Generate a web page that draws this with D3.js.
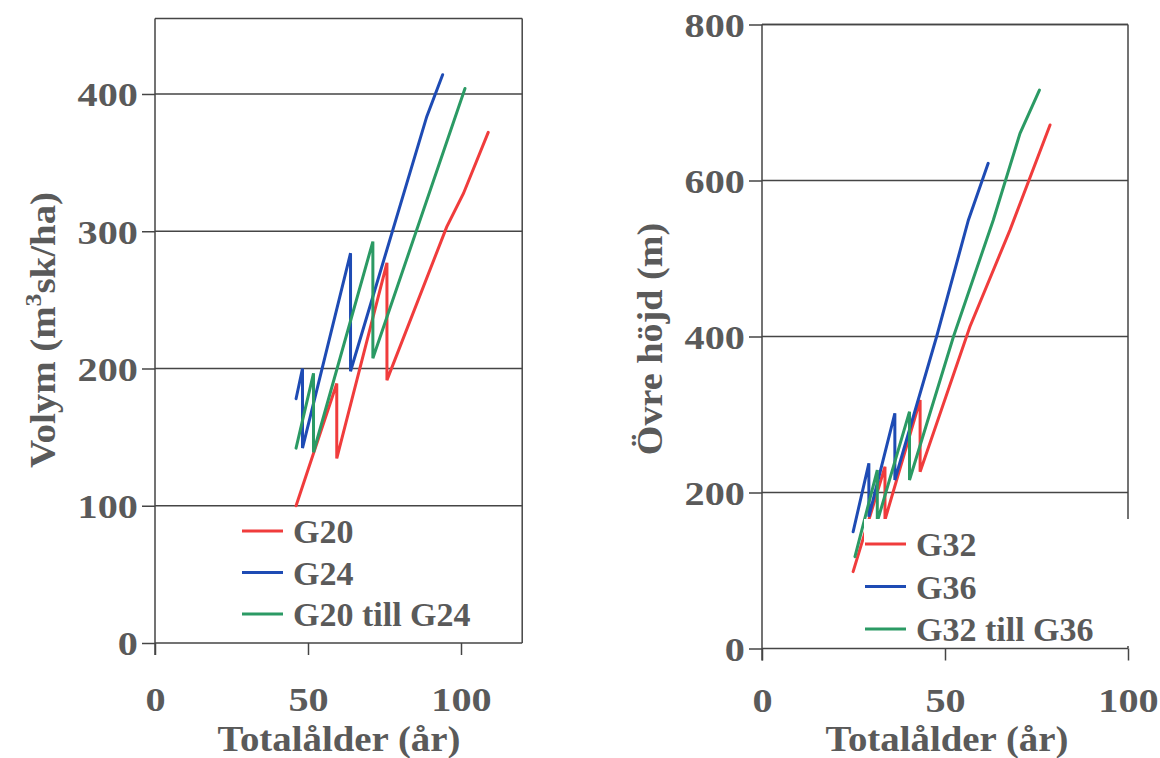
<!DOCTYPE html>
<html><head><meta charset="utf-8">
<script src="https://cdn.jsdelivr.net/npm/d3@7"></script>
<style>
html,body{margin:0;padding:0;background:#fff;}
svg text{font-family:"Liberation Serif","Times New Roman",serif;font-weight:bold;fill:#5a5a5a;}
</style></head>
<body>
<svg id="c" width="1160" height="758"></svg>
<script>
// ---- Left chart: Volym vs Totalålder ----
const leftG20 = [[46.1,100],[59.4,189],[59.4,134.5],[75.8,277],[75.8,191.5],[95.3,303],[100.8,327.5],[108.9,372]];
const leftG24 = [[46.1,178],[48.2,200],[48.2,142],[63.9,284],[63.9,198],[88.8,383.5],[94,414]];
const leftG20G24 = [[46.1,142],[51.8,196.5],[51.8,139],[71.2,292.5],[71.2,207.5],[101.3,404]];
const leftXTicks = [0,50,100];
const leftYTicks = [0,100,200,300,400];
const leftLegend = ["G20","G24","G20 till G24"];

// ---- Right chart: Övre höjd vs Totalålder ----
const rightG32 = [[24.9,98.5],[33.6,233],[33.6,165],[43.2,318.6],[43.2,226.7],[56.8,412.6],[67.8,537],[78.7,671.2]];
const rightG36 = [[24.9,149.7],[29.2,237.4],[29.2,169],[36.3,301.5],[36.3,216],[47.7,399.7],[56.4,549.4],[61.8,622]];
const rightG32G36 = [[25.4,117.7],[31.5,228.8],[31.5,162.6],[40.3,303.6],[40.3,216],[52.3,399.7],[63.2,549.4],[70.5,660.5],[75.8,716]];
const rightXTicks = [0,50,100];
const rightYTicks = [0,200,400,600,800];
const rightLegend = ["G32","G36","G32 till G36"];

const colors = ["#f03c3c","#1e4bb4","#2b9a64"];
const svg = d3.select("#c");
const AX = "#454545";
const TXT = "#5a5a5a";

function chart(cfg){
  const g = svg.append("g");
  const x = d3.scaleLinear().domain(cfg.xDom).range(cfg.xRange);
  const y = d3.scaleLinear().domain(cfg.yDom).range(cfg.yRange);
  const x0 = x(cfg.xDom[0]), x1 = x(cfg.xDom[1]), y0 = y(cfg.yDom[0]), y1 = y(cfg.yDom[1]);
  // gridlines
  g.selectAll(".grid").data(cfg.yTicks.filter(d=>d>0)).join("line")
    .attr("x1",x0).attr("x2",x1).attr("y1",d=>y(d)).attr("y2",d=>y(d))
    .attr("stroke",AX).attr("stroke-width",1.5);
  // frame top & right
  g.append("line").attr("x1",x0).attr("x2",x1).attr("y1",y1).attr("y2",y1).attr("stroke",AX).attr("stroke-width",1.5);
  g.append("line").attr("x1",x1).attr("x2",x1).attr("y1",y1).attr("y2",y0).attr("stroke",AX).attr("stroke-width",1.5);
  // series
  const line = d3.line().x(d=>x(d[0])).y(d=>y(d[1]));
  cfg.series.forEach((s,i)=>{
    g.append("path").attr("d",line(s)).attr("fill","none").attr("stroke",colors[i])
      .attr("stroke-width",3).attr("stroke-linejoin","miter").attr("stroke-linecap","round");
  });
  // legend
  if(cfg.legendBox){
    g.append("rect").attr("x",cfg.legendBox[0]).attr("y",cfg.legendBox[1])
      .attr("width",cfg.legendBox[2]).attr("height",cfg.legendBox[3]).attr("fill","#fff");
  }
  cfg.legend.forEach((t,i)=>{
    const ly = cfg.legendY + i*cfg.legendStep;
    g.append("line").attr("x1",cfg.legendX).attr("x2",cfg.legendX+41).attr("y1",ly).attr("y2",ly)
      .attr("stroke",colors[i]).attr("stroke-width",3);
    g.append("text").attr("x",cfg.legendX+51).attr("y",ly+12).attr("font-size",34).text(t);
  });
  // axes
  const xa = g.append("g").attr("transform",`translate(0,${y0})`)
    .call(d3.axisBottom(x).tickValues(cfg.xTicks).tickSize(12).tickPadding(0).tickFormat(d3.format("d")));
  xa.attr("font-family",null).attr("font-size",null);
  xa.select(".domain").attr("stroke",AX).attr("stroke-width",1.5).attr("d",`M${x0},0H${x1}`);
  xa.selectAll(".tick line").attr("stroke",AX).attr("stroke-width",1.5);
  xa.selectAll(".tick text").attr("y",null).attr("dy",null)
    .attr("transform",`translate(0,${cfg.xLabelDy}) scale(1.22,1)`)
    .attr("font-size",33).attr("fill",TXT);
  const ya = g.append("g").attr("transform",`translate(${x0},0)`)
    .call(d3.axisLeft(y).tickValues(cfg.yTicks).tickSize(13).tickPadding(0).tickFormat(d3.format("d")));
  ya.attr("font-family",null).attr("font-size",null);
  ya.select(".domain").attr("stroke",AX).attr("stroke-width",1.5).attr("d",`M0,${y1}V${y0+12}`);
  ya.selectAll(".tick line").attr("stroke",AX).attr("stroke-width",1.5);
  ya.selectAll(".tick text").attr("x",null).attr("dy","0.36em")
    .attr("transform",`translate(${-cfg.yLabelGap},0) scale(1.22,1)`)
    .attr("font-size",33).attr("fill",TXT);
  // titles
  g.append("text").attr("transform",`translate(${cfg.xTitle[0]},${cfg.xTitle[1]}) scale(1.08,1)`)
    .attr("text-anchor","middle").attr("font-size",36).text("Totalålder (år)");
  const yt = g.append("text").attr("transform",`translate(${cfg.yTitle[0]},${cfg.yTitle[1]}) rotate(-90) scale(${cfg.yTitleScale},1)`)
    .attr("text-anchor","middle").attr("font-size",36);
  cfg.yTitleParts(yt);
}

chart({
  xDom:[0,120], xRange:[155,522.2], yDom:[0,455], yRange:[643,18.5],
  xTicks:leftXTicks, yTicks:leftYTicks,
  series:[leftG20,leftG24,leftG20G24], legend:leftLegend,
  legendX:242, legendY:531, legendStep:41.5, legendBox:null,
  xLabelDy:68, yLabelGap:17,
  xTitle:[339,751], yTitle:[55,330], yTitleScale:1.08,
  yTitleParts:t=>{ t.append("tspan").text("Volym (m"); t.append("tspan").attr("dy",-14).attr("font-size",24).text("3");
    t.append("tspan").attr("dy",14).text("sk/ha)"); }
});
chart({
  xDom:[0,100], xRange:[762,1128], yDom:[0,800], yRange:[648.5,24.5],
  xTicks:rightXTicks, yTicks:rightYTicks,
  series:[rightG32,rightG36,rightG32G36], legend:rightLegend,
  legendX:865, legendY:544, legendStep:42.5, legendBox:[864,519,276,127],
  xLabelDy:63, yLabelGap:17,
  xTitle:[947,751], yTitle:[662,339], yTitleScale:1.06,
  yTitleParts:t=>{ t.text("Övre höjd (m)"); }
});
</script>
</body></html>
